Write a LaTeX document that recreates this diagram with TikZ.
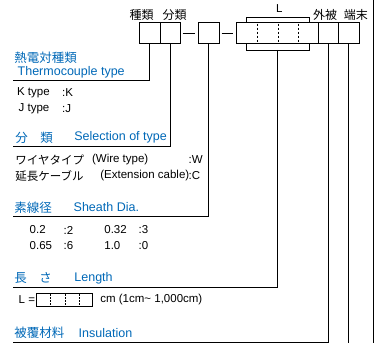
\documentclass[tikz,border=0pt]{standalone}
\usepackage{fontspec}
\setmainfont{Liberation Sans}
\newfontfamily\jp{Noto Sans CJK JP}
\usetikzlibrary{positioning}
\definecolor{hblue}{RGB}{0,104,183}

\begin{document}
\begin{tikzpicture}[x=1pt,y=-1pt,line width=0.8pt,
   box/.style={draw,fill=white,outer sep=0pt,inner sep=0pt,minimum width=20.6pt,minimum height=20.6pt},
   dots/.style={line width=0.7pt,dash pattern=on 2pt off 2pt},
   txt/.style={anchor=west,inner sep=0pt,font=\fontsize{11.5}{13}\selectfont},
   head/.style={txt,text=hblue,font=\fontsize{12.5}{14}\selectfont}]
   \useasboundingbox (0,0) rectangle (377,343);
   % code boxes
   \node[draw,outer sep=0pt,minimum width=63.3pt,minimum height=32.7pt] (br) at (277.7,33.6) {};
   \node[box] (b_1) at (149.7,33) {};
   \node[box,right=0pt of b_1] (b_2) {};
   \node[box] (b_3) at (208.7,33) {};
   \node[box,minimum width=81.6pt] (b_4) at (277.5,33) {};
   \node[box,minimum width=20pt,right=0pt of b_4] (b_5) {};
   \node[box,minimum width=21pt,right=0pt of b_5] (b_6) {};
   \foreach \x in {257.3,278,298}
      \draw[dots] (\x,23.5) -- (\x,42.5);
   \draw ([xshift=2pt]b_2.east) -- ([xshift=-3.3pt]b_3.west);
   \draw ([xshift=2.7pt]b_3.east) -- ([xshift=-3.4pt]b_4.west);
   \node[txt,anchor=center,font=\fontsize{12}{13}\selectfont] (l_1) at (141.7,15) {\jp 種類};
   \node[txt,anchor=center,font=\fontsize{12}{13}\selectfont] (l_2) at (174.5,15) {\jp 分類};
   \node[txt,anchor=center] (l_4) at (279.3,8.5) {L};
   \node[txt,anchor=center,font=\fontsize{12}{13}\selectfont] (l_5) at (325,15) {\jp 外被};
   \node[txt,anchor=center,font=\fontsize{12}{13}\selectfont] (l_6) at (355.8,15) {\jp 端末};
   % lead lines
   \coordinate (h_1) at (12.7,80.7);
   \coordinate (h_2) at (12.7,146.7);
   \coordinate (h_3) at (12.7,216.7);
   \coordinate (h_4) at (12.7,287.3);
   \coordinate (h_5) at (12.7,342.7);
   \coordinate (bot) at (0,343);
   \coordinate (r_top) at (373.3,0);
   \coordinate (r_bot) at (373.3,343);
   \draw (b_1.south) |- (h_1);
   \draw (b_2.south) |- (h_2);
   \draw (b_3.south) |- (h_3);
   \draw (br.south) |- (h_4);
   \draw (b_5.south) |- (h_5);
   \draw (b_6.south) -- (b_6.south |- bot);
   \draw (r_top) -- (r_bot);
   % thermocouple type
   \node[head] (t_1) at (14,57.5) {\jp 熱電対種類};
   \node[head] (t_2) at (17.3,72) {Thermocouple type};
   \node[txt] (k_1) at (16.7,93) {K type};
   \node[txt] (k_2) at (61.7,93) {:K};
   \node[txt] (j_1) at (18.3,108.5) {J type};
   \node[txt] (j_2) at (61.7,108.5) {:J};
   % selection of type
   \node[head] (s_1) at (15,137.5) {\jp 分　類};
   \node[head] (s_2) at (74,137.5) {Selection of type};
   \node[txt] (w_1) at (15,160) {\jp ワイヤタイプ};
   \node[txt] (w_2) at (91.7,160) {(Wire type)};
   \node[txt] (w_3) at (188.3,160) {:W};
   \node[txt] (c_1) at (15,176) {\jp 延長ケーブル};
   \node[txt] (c_2) at (100,176) {(Extension cable)};
   \node[txt] (c_3) at (188.3,176) {:C};
   % sheath dia.
   \node[head] (d_1) at (14,207.3) {\jp 素線径};
   \node[head] (d_2) at (73.3,207.3) {Sheath Dia.};
   \node[txt] (d_3) at (29.3,230) {0.2};
   \node[txt] (d_4) at (63.3,230) {:2};
   \node[txt] (d_5) at (104,230) {0.32};
   \node[txt] (d_6) at (138.3,230) {:3};
   \node[txt] (d_7) at (29.3,245.5) {0.65};
   \node[txt] (d_8) at (63.3,245.5) {:6};
   \node[txt] (d_9) at (104,245.5) {1.0};
   \node[txt] (d_10) at (138.3,245.5) {:0};
   % length
   \node[head] (n_1) at (14,278.3) {\jp 長　さ};
   \node[head] (n_2) at (74,278.3) {Length};
   \node[txt] (n_3) at (18.3,300) {L =};
   \node[draw,outer sep=0pt,minimum width=56pt,minimum height=12.7pt,line width=0.7pt] (lb) at (64.7,299.7) {};
   \foreach \x in {50.7,65,79.3}
      \draw[dots,dash pattern=on 1.5pt off 1.5pt] (\x,294) -- (\x,305.4);
   \node[txt] (n_4) at (100,300) {cm (1cm\textasciitilde\ 1,000cm)};
   % insulation
   \node[head] (i_1) at (14,332.7) {\jp 被覆材料};
   \node[head] (i_2) at (78.3,332.7) {Insulation};
\end{tikzpicture}
\end{document}
